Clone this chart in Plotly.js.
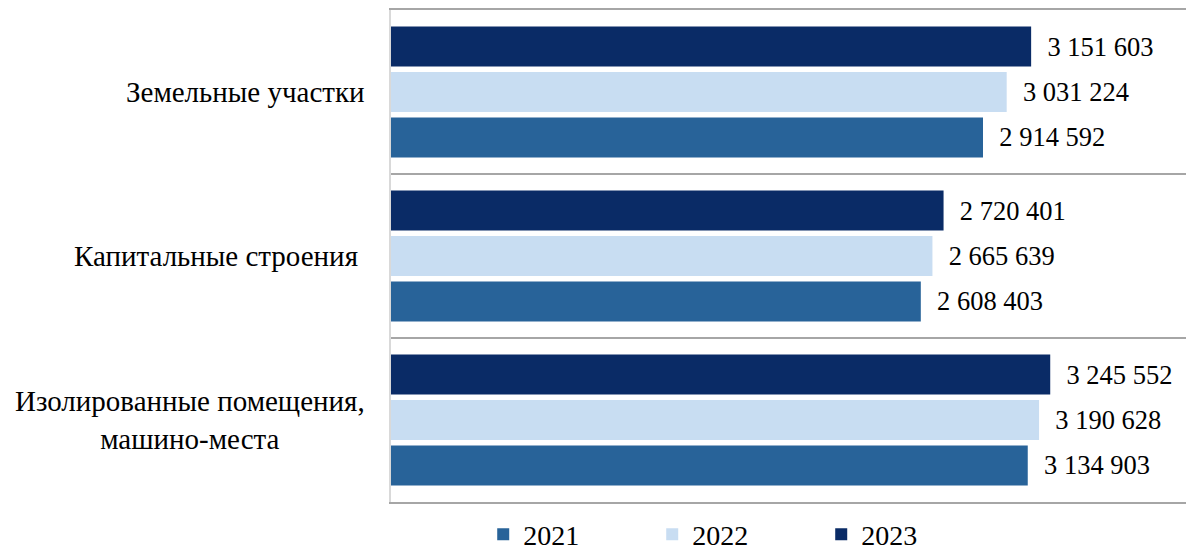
<!DOCTYPE html>
<html>
<head>
<meta charset="utf-8">
<script src="https://cdn.plot.ly/plotly-3.0.1.min.js"></script>
<style>html,body{margin:0;padding:0;background:#fff;}#chart{width:1186px;height:550px;}</style>
</head>
<body>
<div id="chart"></div>
<script>
var categories = ["Изолированные помещения, машино-места", "Капитальные строения", "Земельные участки"];
var tickLabels = ["Изолированные помещения,<br>машино-места", "Капитальные строения\u00a0", "Земельные участки"];
var seriesNames = ["2021", "2022", "2023"];
var values2021 = [3134903, 2608403, 2914592];
var values2022 = [3190628, 2665639, 3031224];
var values2023 = [3245552, 2720401, 3151603];
var colors = ["#286399", "#c8ddf2", "#0a2b66"];

var FONT = "Liberation Serif";

var allValues = [values2021, values2022, values2023];
var traces = allValues.map(function (vals, i) {
  return {
    type: "bar", orientation: "h", name: seriesNames[i],
    y: categories, x: vals, marker: {color: colors[i]},
    texttemplate: "\u00a0\u00a0%{x:,}", textposition: "outside", cliponaxis: false,
    textfont: {family: FONT, size: 26.5, color: "#000"},
    hoverinfo: "x+name"
  };
});

var annotations = categories.map(function (c, i) {
  return {
    xref: "paper", yref: "y", x: 0, y: c,
    xanchor: "right", yanchor: "middle", xshift: -24,
    text: tickLabels[i], showarrow: false, align: "center",
    font: {family: FONT, size: 29, color: "#000"}
  };
});

var layout = {
  width: 1186, height: 550,
  margin: {l: 391, r: 0, t: 10, b: 48, autoexpand: false},
  paper_bgcolor: "#fff", plot_bgcolor: "#fff",
  separators: ", ", barmode: "group", bargap: 0.168, bargroupgap: 0.12,
  showlegend: true,
  font: {family: FONT, color: "#000"},
  legend: {
    orientation: "h", x: 0.116, xanchor: "left", y: -0.066, yanchor: "middle",
    font: {family: FONT, size: 28, color: "#000"},
    entrywidth: 124, entrywidthmode: "pixels", traceorder: "normal"
  },
  xaxis: {range: [0, 3914000], showgrid: false, zeroline: false, showticklabels: false, ticks: "", showline: true, mirror: true, linecolor: "#a6a6a6", linewidth: 2, fixedrange: true},
  yaxis: {type: "category", showticklabels: false, ticks: "", tickson: "boundaries", showgrid: true, gridcolor: "#a6a6a6", gridwidth: 2, showline: true, linecolor: "#d9d9d9", linewidth: 2, zeroline: false, range: [-0.5, 2.5]},
  annotations: annotations
};

Plotly.newPlot("chart", traces, layout, {displayModeBar: false, staticPlot: true});
</script>
</body>
</html>
